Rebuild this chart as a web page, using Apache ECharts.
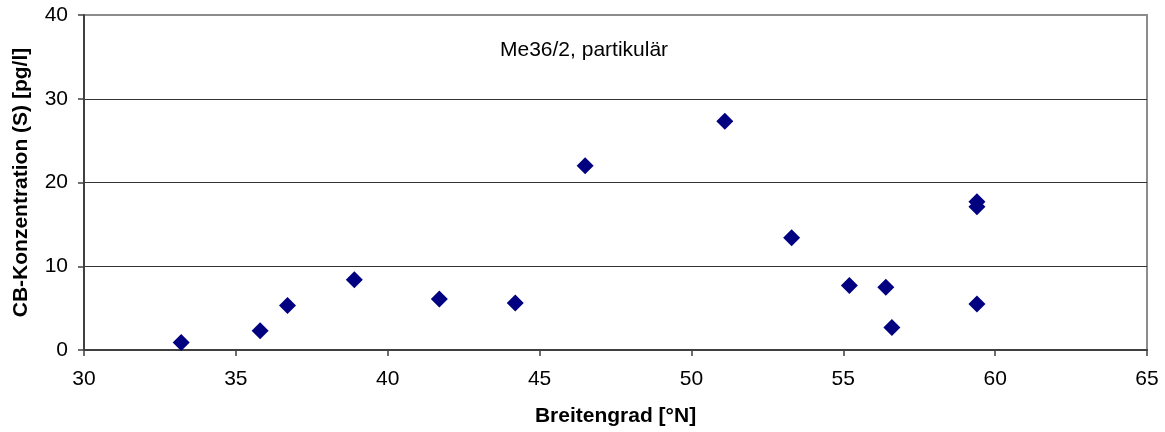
<!DOCTYPE html>
<html>
<head>
<meta charset="utf-8">
<script src="https://cdn.jsdelivr.net/npm/echarts@6/dist/echarts.min.js"></script>
<style>
html,body{margin:0;padding:0;background:#fff;}
#chart{width:1165px;height:432px;}
</style>
</head>
<body>
<div id="chart"></div>
<script>
// Breitengrad [°N]
const latitude = [33.2, 35.8, 36.7, 38.9, 41.7, 44.2, 46.5, 51.1, 53.3, 55.2, 56.4, 56.6, 59.4, 59.4, 59.4];
// CB-Konzentration (S) [pg/l]
const concentration = [0.9, 2.3, 5.3, 8.4, 6.1, 5.6, 22.0, 27.3, 13.4, 7.7, 7.5, 2.7, 17.7, 17.1, 5.5];
const xTicks = { min: 30, max: 65, step: 5 };
const yTicks = { min: 0, max: 40, step: 10 };
const chartTitle = 'Me36/2, partikulär';
const xName = 'Breitengrad [°N]';
const yName = 'CB-Konzentration (S) [pg/l]';

const points = latitude.map((x, i) => [x, concentration[i]]);
const FONT = '"Liberation Sans", Arial, sans-serif';

const chart = echarts.init(document.getElementById('chart'), null, { renderer: 'canvas' });
chart.setOption({
  animation: false,
  backgroundColor: '#fff',
  title: {
    text: chartTitle,
    left: 495,
    top: 35,
    textStyle: { fontFamily: FONT, fontSize: 21, fontWeight: 'normal', color: '#000' }
  },
  grid: {
    left: 84, right: 18, top: 15, bottom: 82,
    show: true, borderColor: '#8c8c8c', borderWidth: 2, backgroundColor: '#fff'
  },
  xAxis: {
    type: 'value',
    min: xTicks.min, max: xTicks.max, interval: xTicks.step,
    name: xName,
    nameLocation: 'middle',
    nameGap: 56,
    nameTextStyle: { fontFamily: FONT, fontSize: 21, fontWeight: 'bold', color: '#000' },
    axisLine: { show: true, lineStyle: { color: '#404040', width: 2 } },
    axisTick: { show: true, inside: false, length: 6, lineStyle: { color: '#404040', width: 1.5 } },
    axisLabel: { fontFamily: FONT, fontSize: 21, color: '#000', margin: 19 },
    splitLine: { show: false }
  },
  yAxis: {
    type: 'value',
    min: yTicks.min, max: yTicks.max, interval: yTicks.step,
    name: yName,
    nameLocation: 'middle',
    nameGap: 52,
    nameTextStyle: { fontFamily: FONT, fontSize: 21, fontWeight: 'bold', color: '#000' },
    axisLine: { show: true, lineStyle: { color: '#404040', width: 2 } },
    axisTick: { show: true, inside: false, length: 6, lineStyle: { color: '#404040', width: 1.5 } },
    axisLabel: { fontFamily: FONT, fontSize: 21, color: '#000', margin: 16 },
    splitLine: { show: true, showMinLine: false, showMaxLine: false, lineStyle: { color: '#333', width: 1.2 } }
  },
  series: [{
    type: 'scatter',
    data: points,
    symbol: 'diamond',
    symbolSize: 17,
    itemStyle: { color: '#000080', opacity: 1 }
  }]
});
</script>
</body>
</html>
